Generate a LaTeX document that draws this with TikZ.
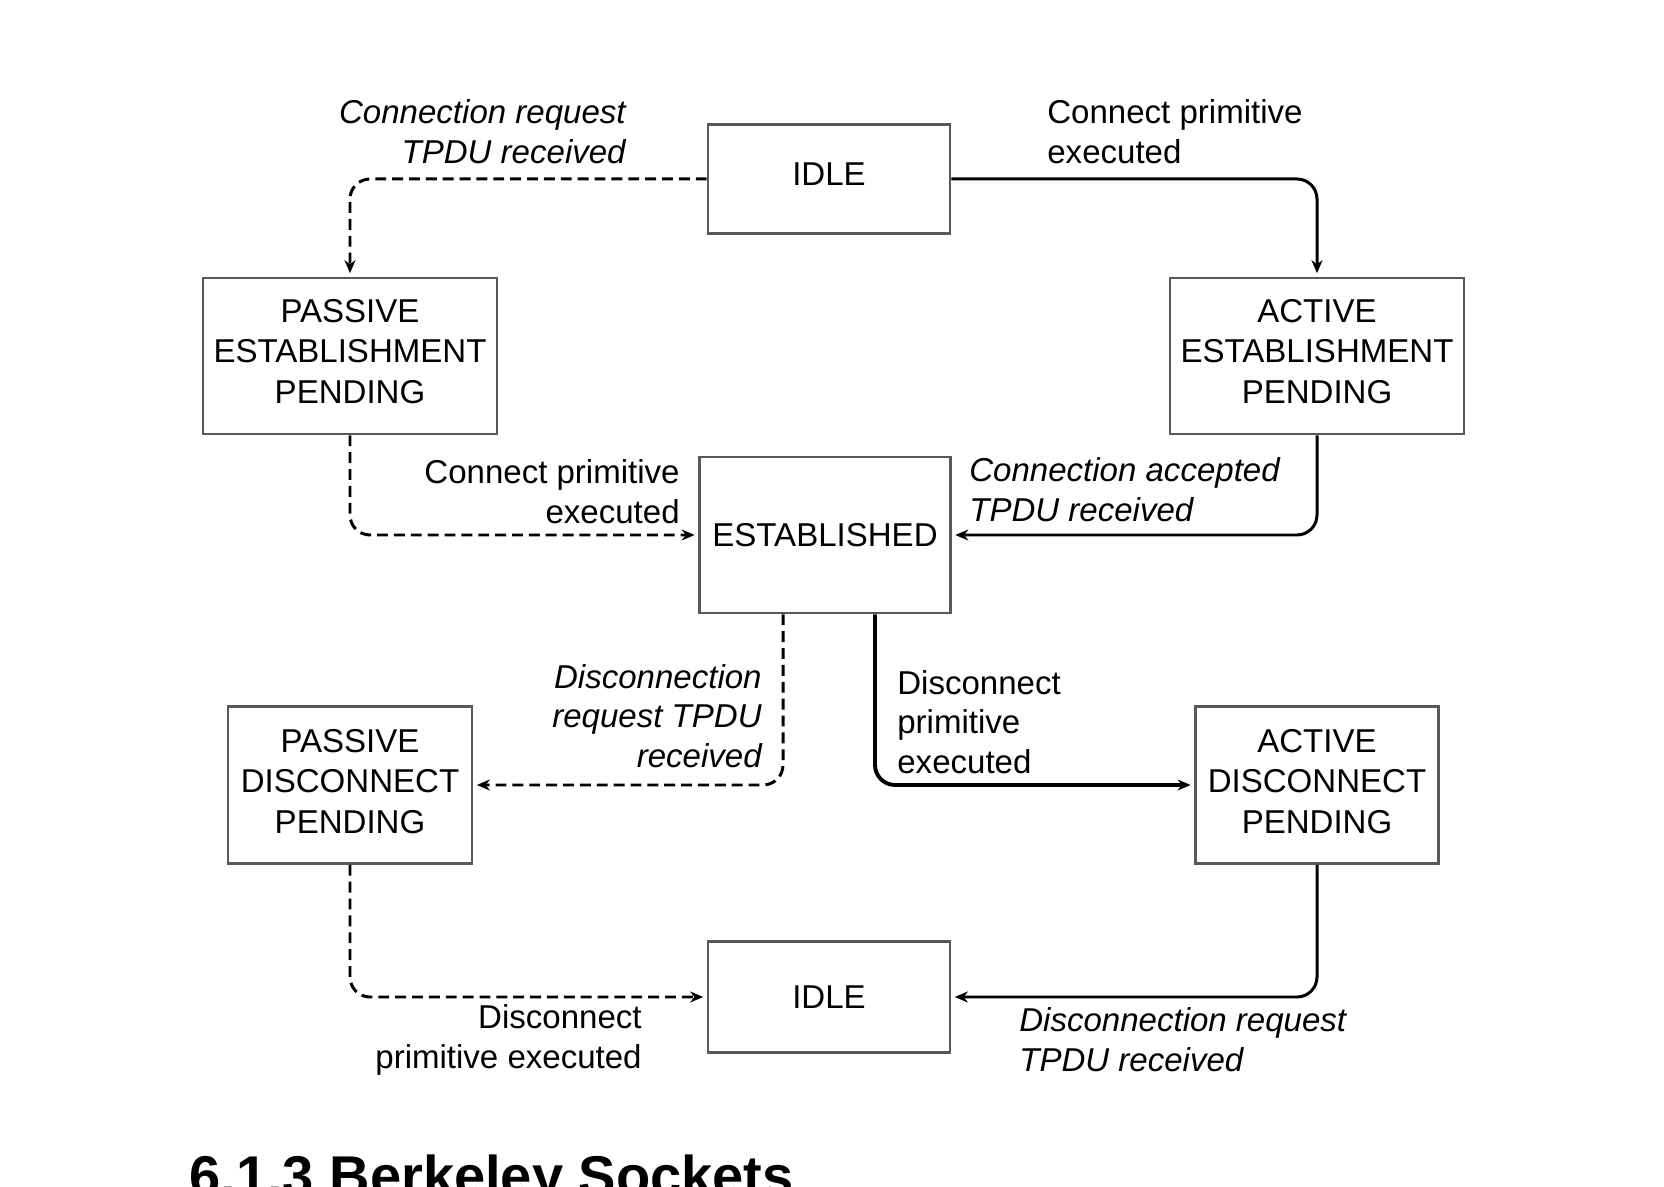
\documentclass[tikz,border=0pt]{standalone}
\usepackage{fontspec}
\setmainfont{Liberation Sans}
\usetikzlibrary{arrows.meta}

\tikzset{
  state/.style={draw=black!65, line width=1.5pt, inner sep=0pt, align=center,
    minimum height=3.12cm, font=\fontsize{18.8}{22.9}\selectfont},
  lbl/.style={inner sep=0pt, font=\fontsize{18.8}{22.6}\selectfont},
  conn/.style={line width=1.7pt, rounded corners=0.4cm, shorten >=2pt,
    -{Stealth[length=2.6mm,width=2.2mm]}},
  dashconn/.style={conn, dash pattern=on 6.2pt off 3.4pt},
}

\begin{document}
\begin{tikzpicture}
\useasboundingbox (0,0) rectangle (33.28,23.72);

% les etats
\node[state, minimum width=4.84cm, minimum height=2.18cm] (idleT) at (16.58,20.14) {IDLE\\[-0.62cm]};
\node[state, minimum width=5.88cm] (pestab) at (7.0,16.6) {PASSIVE\\ESTABLISHMENT\\PENDING\\[-0.62cm]};
\node[state, minimum width=5.88cm] (aestab) at (26.34,16.6) {ACTIVE\\ESTABLISHMENT\\PENDING\\[-0.62cm]};
\node[state, minimum width=5.02cm] (estab) at (16.5,13.02) {ESTABLISHED};
\node[state, minimum width=4.88cm, minimum height=3.14cm] (pdisc) at (7.0,8.02) {PASSIVE\\DISCONNECT\\PENDING\\[-0.66cm]};
\node[state, minimum width=4.86cm, minimum height=3.14cm] (adisc) at (26.34,8.02) {ACTIVE\\DISCONNECT\\PENDING\\[-0.66cm]};
\node[state, minimum width=4.84cm, minimum height=2.22cm] (idleB) at (16.58,3.78) {IDLE};

% les transitions
\draw[dashconn] (idleT.west) -| (pestab.north);
\draw[conn] (idleT.east) -| (aestab.north);
\draw[dashconn] (pestab.south) |- (estab.west);
\draw[conn] (aestab.south) |- (estab.east);
\draw[dashconn] ([xshift=-0.84cm]estab.south) |- (pdisc.east);
\draw[conn, line width=2.2pt] ([xshift=1cm]estab.south) |- (adisc.west);
\draw[dashconn] (pdisc.south) |- (idleB.west);
\draw[conn] (adisc.south) |- (idleB.east);

% les libelles
\node[lbl, anchor=east, align=right] (crq) at (12.52,21.08) {\itshape Connection request\\\itshape TPDU received};
\node[lbl, anchor=west, align=left] (cpa) at (20.94,21.08) {Connect primitive\\executed};
\node[lbl, anchor=east, align=right] (cpp) at (13.6,13.88) {Connect primitive\\executed};
\node[lbl, anchor=west, align=left] (cac) at (19.38,13.92) {\itshape Connection accepted\\\itshape TPDU received};
\node[lbl, anchor=east, align=right] (drq) at (15.24,9.4) {\itshape Disconnection\\\itshape request TPDU\\\itshape received};
\node[lbl, anchor=west, align=left] (dpa) at (17.94,9.28) {Disconnect\\primitive\\executed};
\node[lbl, anchor=east, align=right] (dpp) at (12.84,2.92) {Disconnect\\primitive executed};
\node[lbl, anchor=west, align=left] (drr) at (20.38,2.92) {\itshape Disconnection request\\\itshape TPDU received};

\node[anchor=base west, inner sep=0pt, font=\bfseries\fontsize{31.9}{36}\selectfont] (head) at (3.78,-0.18) {6.1.3 Berkeley Sockets};
\end{tikzpicture}
\end{document}
